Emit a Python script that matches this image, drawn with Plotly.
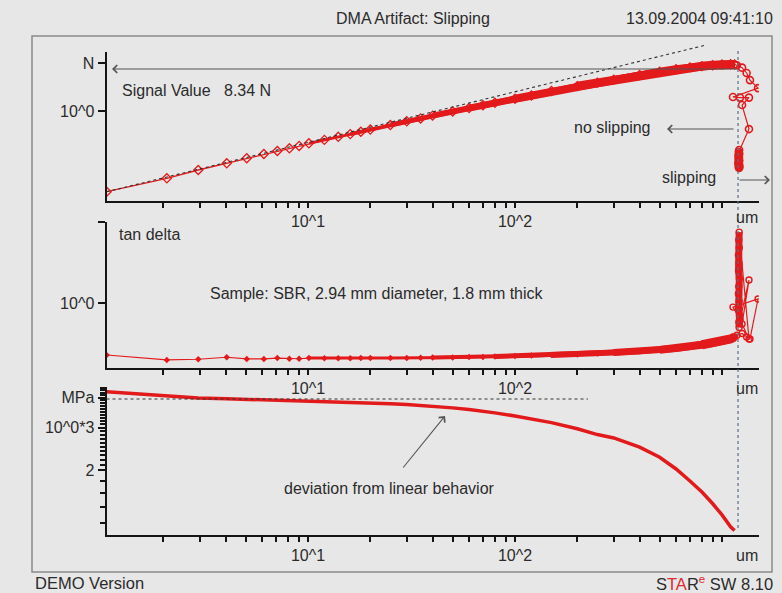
import math
import plotly.graph_objects as go

W, H = 782, 593
FONT = "Liberation Sans, Arial, sans-serif"
TXT = "#2b2b2b"
AX = "#151515"
RED = "#e31a1c"
BG = "#e7e7e7"

# ---------------- data ----------------
disp_um = [1.065, 2.08, 2.95, 4.05, 5.06, 6.12, 7.11, 8.13, 9.06, 10.1,
           12, 14, 16, 18, 20, 25, 30, 35, 40, 50, 60, 70, 80, 100,
           120, 150, 200, 250, 300, 400, 500, 600, 700, 800, 900, 1000, 1100, 1150]
force_N = [0.0208, 0.0396, 0.059, 0.0813, 0.1035, 0.127, 0.147, 0.167, 0.187, 0.212,
           0.25, 0.29, 0.33, 0.37, 0.41, 0.51, 0.61, 0.70, 0.80, 0.98, 1.15, 1.32, 1.48, 1.80,
           2.1, 2.6, 3.3, 3.9, 4.5, 5.6, 6.6, 7.4, 8.1, 8.6, 9.0, 9.3, 9.4, 9.3]
tan_delta = [0.228, 0.198, 0.202, 0.214, 0.204, 0.204, 0.209, 0.205, 0.205, 0.209,
             0.208, 0.208, 0.208, 0.209, 0.209, 0.210, 0.210, 0.211, 0.212, 0.213, 0.215, 0.216, 0.218, 0.222,
             0.225, 0.228, 0.232, 0.238, 0.245, 0.254, 0.264, 0.275, 0.290, 0.305, 0.320, 0.335, 0.360, 0.380]
modulus_MPa = [4.24, 4.08, 3.99, 3.96, 3.94, 3.92, 3.91, 3.90, 3.89, 3.88,
               3.87, 3.86, 3.84, 3.83, 3.81, 3.78, 3.75, 3.72, 3.69, 3.63, 3.57, 3.52, 3.46, 3.36,
               3.26, 3.15, 2.97, 2.81, 2.72, 2.49, 2.26, 2.02, 1.80, 1.62, 1.45, 1.30, 1.16, 1.12]

# slipping phase (after the force maximum)
slip_disp_um = [1180, 1250, 1315, 1365, 1493, 1130, 1222, 1350, 1250, 1350,
                1210, 1205, 1212, 1200, 1208, 1202, 1212, 1205, 1200, 1210, 1204, 1214, 1206, 1210]
slip_force_N = [9.0, 8.0, 6.2, 4.4, 3.0, 1.96, 1.9, 1.9, 1.33, 0.42,
                0.154, 0.14, 0.128, 0.118, 0.108, 0.10, 0.093, 0.087, 0.082, 0.077, 0.073, 0.07, 0.067, 0.065]
slip_tan_delta = [0.40, 0.42, 0.38, 0.36, 1.12, 0.89, 0.62, 1.92, 0.55, 0.36,
                  7.5, 6.0, 4.8, 3.9, 3.1, 2.5, 2.0, 1.6, 1.3, 1.05, 0.85, 0.70, 0.58, 0.50]

signal_value_N = 8.34
slip_onset_um = 1195
linear_modulus_MPa = 3.95
linear_end_um = 225
extrap_end = (830, 23.5)

x_tick_major = [10, 100, 1000]
x_tick_text = ["10^1", "10^2", ""]
x_tick_minor = [2, 3, 4, 5, 6, 7, 8, 9, 20, 30, 40, 50, 60, 70, 80, 90,
                200, 300, 400, 500, 600, 700, 800, 900]
y1_ticks, y1_text = [1, 10], ["10^0", "N"]
y2_ticks, y2_text = [1, 10], ["10^0", ""]
y3_ticks, y3_text = [2, 3, 4], ["2", "10^0*3", "MPa"]
y3_minor = [1.2, 1.4, 1.6, 1.8, 2.1, 2.2, 2.3, 2.4, 2.5, 2.6, 2.7, 2.8, 2.9,
            3.1, 3.2, 3.3, 3.4, 3.5, 3.6, 3.7, 3.8, 3.9, 4.1, 4.2, 4.3, 4.4]

# ---------------- geometry (pixels) ----------------
PX_L, PX_R = 106.5, 759.0
X0_PX, DEC_X = 101.0, 207.0           # pixel of 10^0 and pixels per decade
xr = [(PX_L - X0_PX) / DEC_X, (PX_R - X0_PX) / DEC_X]

# (top px, bottom px, reference px, log10 of reference, px per decade)
panels = [
    (52.0, 201.0, 111.0, 0.0, 48.0),
    (221.5, 368.0, 303.0, 0.0, 81.0),
    (387.0, 535.0, 470.0, math.log10(2), 240.0),
]

# band widths that imitate the growing density of measuring points
band1 = [(10, 3), (16, 4), (25, 5), (40, 6), (60, 7), (100, 8), (200, 9)]
band2 = [(10, 3), (40, 4), (80, 5), (150, 6), (300, 7), (500, 8), (800, 9)]


def fx(px):
    return px / W


def fy(py):
    return 1 - py / H


def xpx(v):
    return X0_PX + DEC_X * math.log10(v)


def ypx(i, v):
    top, bot, ref, rl, ppd = panels[i]
    return ref - ppd * (math.log10(v) - rl)


def first_index(limit):
    return next(i for i, v in enumerate(disp_um) if v >= limit)


fig = go.Figure()

# panel 1 : force
for start, width in band1:
    i0 = first_index(start)
    fig.add_trace(go.Scatter(x=disp_um[i0:], y=force_N[i0:], mode="lines",
                             line=dict(color=RED, width=width), xaxis="x", yaxis="y", hoverinfo="skip"))
fig.add_trace(go.Scatter(x=disp_um, y=force_N, mode="lines+markers",
                         line=dict(color=RED, width=1.3),
                         marker=dict(symbol="diamond-open", size=7, color=RED, line=dict(width=1.3)),
                         xaxis="x", yaxis="y"))
fig.add_trace(go.Scatter(x=[disp_um[-1]] + slip_disp_um, y=[force_N[-1]] + slip_force_N,
                         mode="lines+markers", line=dict(color=RED, width=1.2),
                         marker=dict(symbol="circle-open", size=7, color=RED, line=dict(width=1.6)),
                         xaxis="x", yaxis="y"))
fig.add_trace(go.Scatter(x=slip_disp_um[10:], y=slip_force_N[10:], mode="lines",
                         line=dict(color=RED, width=7), xaxis="x", yaxis="y", hoverinfo="skip"))

# panel 2 : tan delta
for start, width in band2:
    i0 = first_index(start)
    fig.add_trace(go.Scatter(x=disp_um[i0:], y=tan_delta[i0:], mode="lines",
                             line=dict(color=RED, width=width), xaxis="x2", yaxis="y2", hoverinfo="skip"))
fig.add_trace(go.Scatter(x=disp_um, y=tan_delta, mode="lines+markers",
                         line=dict(color=RED, width=1.2),
                         marker=dict(symbol="diamond", size=5, color=RED),
                         xaxis="x2", yaxis="y2"))
fig.add_trace(go.Scatter(x=[disp_um[-1]] + slip_disp_um, y=[tan_delta[-1]] + slip_tan_delta,
                         mode="lines+markers", line=dict(color=RED, width=1.2),
                         marker=dict(symbol="circle-open", size=6, color=RED, line=dict(width=1.4)),
                         xaxis="x2", yaxis="y2"))
fig.add_trace(go.Scatter(x=slip_disp_um[10:], y=slip_tan_delta[10:], mode="lines",
                         line=dict(color=RED, width=7), xaxis="x2", yaxis="y2", hoverinfo="skip"))

# panel 3 : modulus
fig.add_trace(go.Scatter(x=disp_um, y=modulus_MPa, mode="lines",
                         line=dict(color=RED, width=3.5), xaxis="x3", yaxis="y3"))


def xaxis_dict(anchor):
    return dict(domain=[fx(PX_L), fx(PX_R)], anchor=anchor, type="log", range=xr,
                tickmode="array", tickvals=x_tick_major, ticktext=x_tick_text,
                ticks="outside", ticklen=5, tickwidth=1.5, tickcolor=AX,
                showline=True, linecolor=AX, linewidth=2, showgrid=False, zeroline=False,
                tickfont=dict(family=FONT, size=16, color=TXT),
                minor=dict(tickmode="array", tickvals=x_tick_minor, ticks="outside",
                           ticklen=5, tickwidth=1.5, tickcolor=AX, showgrid=False))


def yaxis_dict(i, anchor, tv, tt, minor=None):
    top, bot, ref, rl, ppd = panels[i]
    d = dict(domain=[fy(bot), fy(top)], anchor=anchor, type="log",
             range=[rl - (bot - ref) / ppd, rl + (ref - top) / ppd],
             tickmode="array", tickvals=tv, ticktext=tt,
             ticks="outside", ticklen=7, tickwidth=1.5, tickcolor=AX,
             showline=True, linecolor=AX, linewidth=2, showgrid=False, zeroline=False,
             tickfont=dict(family=FONT, size=16, color=TXT))
    if minor is not None:
        d["minor"] = dict(tickmode="array", tickvals=minor, ticks="outside",
                          ticklen=4.5, tickwidth=1.5, tickcolor=AX, showgrid=False)
    return d


shapes = []
# outer frame
shapes.append(dict(type="rect", xref="paper", yref="paper", x0=fx(32), x1=fx(772), y0=fy(572), y1=fy(36),
                   line=dict(color="#8a8a8a", width=1.5)))
# vertical dotted line at the slip onset
shapes.append(dict(type="line", xref="paper", yref="paper", x0=fx(xpx(slip_onset_um)), x1=fx(xpx(slip_onset_um)),
                   y0=fy(528), y1=fy(50), line=dict(color="#5a6d88", width=1.2, dash="dot")))
# linear extrapolation in force panel
shapes.append(dict(type="line", xref="paper", yref="paper",
                   x0=fx(xpx(disp_um[0])), y0=fy(ypx(0, force_N[0])),
                   x1=fx(xpx(extrap_end[0])), y1=fy(ypx(0, extrap_end[1])),
                   line=dict(color="#333333", width=1.1, dash="dot")))
# linear modulus level
shapes.append(dict(type="line", xref="paper", yref="paper",
                   x0=fx(PX_L), y0=fy(ypx(2, linear_modulus_MPa)),
                   x1=fx(xpx(linear_end_um)), y1=fy(ypx(2, linear_modulus_MPa)),
                   line=dict(color="#333333", width=1.1, dash="dot")))


def txt(text, px, py, xanchor="left", size=16, color=TXT):
    return dict(text=text, x=fx(px), y=fy(py), xref="paper", yref="paper", xanchor=xanchor,
                yanchor="middle", showarrow=False, font=dict(family=FONT, size=size, color=color))


def arrow(hx, hy, tx, ty):
    return dict(text="", x=fx(hx), y=fy(hy), xref="paper", yref="paper",
                ax=tx - hx, ay=ty - hy, axref="pixel", ayref="pixel", showarrow=True,
                arrowhead=4, arrowsize=1.4, arrowwidth=1.1, arrowcolor="#555555",
                standoff=0, startstandoff=0)


sx = xpx(slip_onset_um)
annotations = [
    txt("DMA Artifact: Slipping", 413, 18, "center"),
    txt("13.09.2004 09:41:10", 775, 18, "right"),
    txt("Signal Value   8.34 N", 120, 90),
    txt("no slipping", 653, 127, "right"),
    txt("slipping", 660, 177),
    txt("tan delta", 117, 235),
    txt("Sample: SBR, 2.94 mm diameter, 1.8 mm thick", 208, 293),
    txt("deviation from linear behavior", 282, 488),
    txt("um", 747, 217, "center"),
    txt("um", 747, 388, "center"),
    txt("um", 747, 555, "center"),
    txt("DEMO Version", 33, 583, size=16.5),
    txt("S<span style='color:#e2262e'>TA</span>R<sup><span style='color:#e2262e'>e</span></sup> SW 8.10",
        775, 583, "right", size=16.5),
    arrow(112, 69, sx, 69),
    arrow(667, 129, sx - 3, 129),
    arrow(770, 180, sx, 180),
    arrow(445, 416, 402, 469),
]

fig.update_layout(
    width=W, height=H, autosize=False,
    margin=dict(l=0, r=0, t=0, b=0),
    paper_bgcolor=BG, plot_bgcolor=BG,
    showlegend=False,
    xaxis=xaxis_dict("y"), yaxis=yaxis_dict(0, "x", y1_ticks, y1_text),
    xaxis2=xaxis_dict("y2"), yaxis2=yaxis_dict(1, "x2", y2_ticks, y2_text),
    xaxis3=xaxis_dict("y3"), yaxis3=yaxis_dict(2, "x3", y3_ticks, y3_text, y3_minor),
    shapes=shapes, annotations=annotations,
)

fig.write_html("out.html", config={"displayModeBar": False},
               post_script="document.body.style.margin='0';document.body.style.padding='0';"
                           "document.body.style.background='" + BG + "';")
